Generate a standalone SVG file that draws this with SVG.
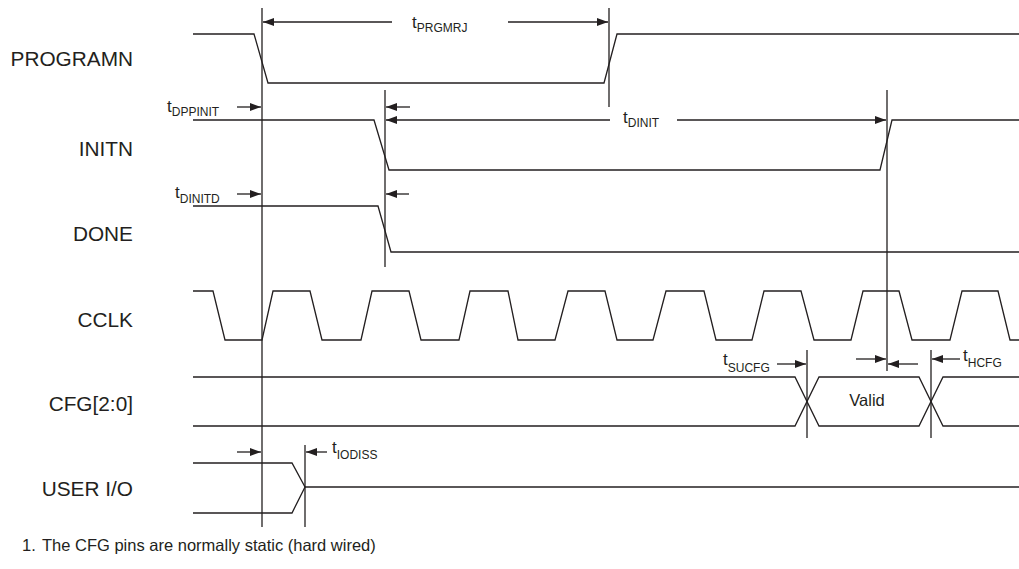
<svg xmlns="http://www.w3.org/2000/svg" width="1019" height="569" viewBox="0 0 1019 569">
<style>
.sig{fill:none;stroke:#231f20;stroke-width:1.3;stroke-linejoin:miter}
.ref{fill:none;stroke:#231f20;stroke-width:1.3}
.arr{fill:none;stroke:#231f20;stroke-width:1.3;marker-end:url(#ah)}
.lbl{font-family:"Liberation Sans",Arial,sans-serif;font-size:20.8px;fill:#231f20;text-anchor:end}
.t{font-family:"Liberation Sans",Arial,sans-serif;font-size:17px;fill:#231f20}
.sub{font-size:12px}
.note{font-family:"Liberation Sans",Arial,sans-serif;font-size:16.5px;fill:#231f20}
</style>
<defs>
<marker id="ah" viewBox="0 0 11 8" refX="11" refY="4" markerWidth="11" markerHeight="8" markerUnits="userSpaceOnUse" orient="auto">
<path d="M0,0 L11,4 L0,8 z" fill="#231f20"/>
</marker>
</defs>
<rect width="1019" height="569" fill="#fff"/>

<g id="labels">
<text class="lbl" x="133" y="66">PROGRAMN</text>
<text class="lbl" x="133" y="156">INITN</text>
<text class="lbl" x="133" y="241">DONE</text>
<text class="lbl" x="133" y="327">CCLK</text>
<text class="lbl" x="133" y="411">CFG[2:0]</text>
<text class="lbl" x="133" y="496">USER I/O</text>
</g>

<g id="programn"><path class="sig" d="M193,34 L254,34 L268,83 L604,83 L617,34 L1019,34"/></g>
<g id="initn"><path class="sig" d="M193,120 L374,120 L389,170 L880,170 L892,120 L1019,120"/></g>
<g id="done"><path class="sig" d="M193,206 L378,206 L391,252 L1019,252"/></g>
<g id="cclk"><path class="sig" d="M193,291 L213,291 L225,340 L262,340 L273,291 L310,291 L322,340 L361,340 L372,291 L409,291 L421,340 L459,340 L470,291 L508,291 L518,340 L555,340 L568,291 L605,291 L617,340 L653,340 L666,291 L704,291 L716,340 L752,340 L764,291 L801,291 L814,340 L851,340 L863,291 L899,291 L912,340 L950,340 L962,291 L998,291 L1010,340 L1019,340"/></g>
<g id="cfg">
<path class="sig" d="M193,377 L795,377 L819,426 L919,426 L943,377 L1019,377"/>
<path class="sig" d="M193,426 L795,426 L819,377 L919,377 L943,426 L1019,426"/>
<text class="t" x="867" y="406" text-anchor="middle" style="font-size:16.5px">Valid</text>
</g>
<g id="userio">
<path class="sig" d="M193,463 L292,463 L305,487 L292,513 L193,513"/>
<path class="sig" d="M305,487 L1019,487"/>
</g>

<g id="connectors">
<line class="ref" x1="262" y1="8" x2="262" y2="527"/>
<line class="ref" x1="609" y1="8" x2="609" y2="107"/>
<line class="ref" x1="385" y1="90" x2="385" y2="267"/>
<line class="ref" x1="887" y1="90" x2="887" y2="371"/>
<line class="ref" x1="807" y1="350" x2="807" y2="438"/>
<line class="ref" x1="931" y1="350" x2="931" y2="438"/>
<line class="ref" x1="305" y1="445" x2="305" y2="527"/>

<line class="arr" x1="392" y1="22" x2="263" y2="22"/>
<line class="arr" x1="508" y1="22" x2="608" y2="22"/>
<line class="arr" x1="237" y1="107" x2="261" y2="107"/>
<line class="arr" x1="410" y1="107" x2="386" y2="107"/>
<line class="arr" x1="610" y1="120" x2="386" y2="120"/>
<line class="arr" x1="677" y1="120" x2="886" y2="120"/>
<line class="arr" x1="237" y1="194" x2="261" y2="194"/>
<line class="arr" x1="409" y1="194" x2="386" y2="194"/>
<line class="arr" x1="777" y1="364" x2="806" y2="364"/>
<line class="arr" x1="856" y1="359" x2="886" y2="359"/>
<line class="arr" x1="918" y1="364" x2="888" y2="364"/>
<line class="arr" x1="960" y1="359" x2="932" y2="359"/>
<line class="arr" x1="237" y1="452" x2="261" y2="452"/>
<line class="arr" x1="327" y1="452" x2="306" y2="452"/>
</g>

<g id="timing-labels">
<text class="t" x="412" y="28">t<tspan class="sub" dy="4">PRGMRJ</tspan></text>
<text class="t" x="167" y="112">t<tspan class="sub" dy="4">DPPINIT</tspan></text>
<text class="t" x="623" y="123">t<tspan class="sub" dy="4">DINIT</tspan></text>
<text class="t" x="175" y="198">t<tspan class="sub" dy="5">DINITD</tspan></text>
<text class="t" x="723" y="365">t<tspan class="sub" dy="7">SUCFG</tspan></text>
<text class="t" x="963" y="361">t<tspan class="sub" dy="6">HCFG</tspan></text>
<text class="t" x="332" y="453">t<tspan class="sub" dy="6">IODISS</tspan></text>
</g>

<g id="footnote">
<text class="note" x="22" y="551">1.<tspan x="42">The CFG pins are normally static (hard wired)</tspan></text>
</g>
</svg>
